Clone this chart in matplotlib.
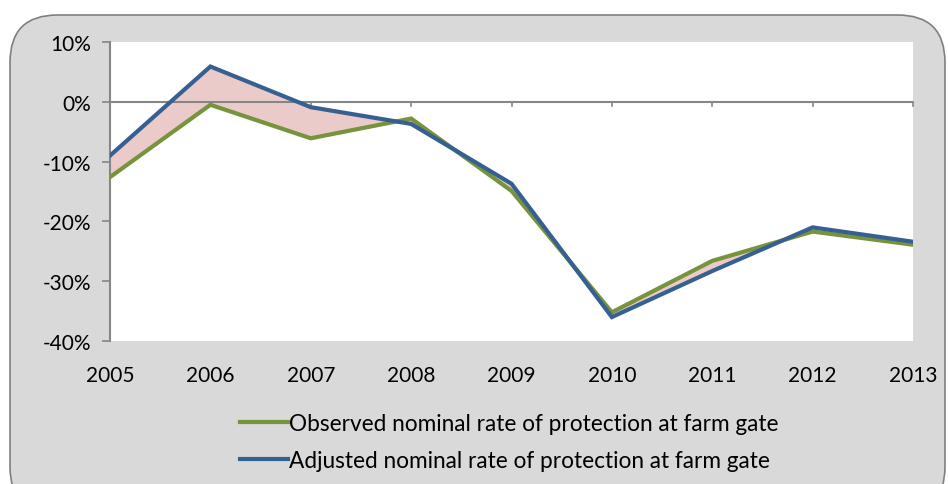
import matplotlib.pyplot as plt
from matplotlib.patches import FancyBboxPatch
from matplotlib.lines import Line2D
from matplotlib.ticker import FuncFormatter

years = ["2005", "2006", "2007", "2008", "2009", "2010", "2011", "2012", "2013"]
observed = [-12.6, -0.5, -6.1, -2.8, -14.9, -35.2, -26.6, -21.7, -23.9]
adjusted = [-9.0, 5.9, -0.9, -3.7, -13.7, -36.0, -28.3, -21.0, -23.4]

GREEN = "#77933C"
BLUE = "#376092"
PINK = "#EBCBCA"
GRAY = "#868686"
BG = "#D9D9D9"

plt.rcParams["font.family"] = ["Lato", "DejaVu Sans"]

W, H = 948, 485
fig = plt.figure(figsize=(W / 100, H / 100), dpi=100)
fig.patch.set_facecolor("white")

# rounded grey frame behind everything
frame = FancyBboxPatch((10 / W, -30 / H), 935 / W, (H - 16 + 30) / H,
                       boxstyle="round,pad=0,rounding_size=0.05",
                       transform=fig.transFigure, facecolor=BG,
                       edgecolor="#808080", linewidth=1.2, zorder=-5,
                       mutation_aspect=W / H)
fig.patches.append(frame)

ax = fig.add_axes([110 / W, (H - 342) / H, (913 - 110) / W, (342 - 43) / H])
ax.set_zorder(2)
ax.set_facecolor("white")

x = list(range(len(years)))
ax.fill_between(x, observed, adjusted, color=PINK, linewidth=0, zorder=1)
ax.axhline(0, color=GRAY, linewidth=1.5, zorder=2)
ax.plot(x, observed, color=GREEN, linewidth=3, solid_joinstyle="miter", zorder=3)
ax.plot(x, adjusted, color=BLUE, linewidth=3, solid_joinstyle="miter", zorder=4)

# small tick marks hanging below the zero line
for xi in x:
    ax.plot([xi, xi], [0, -0.7], color=GRAY, linewidth=1.2, zorder=2,
            clip_on=False)

ax.set_xlim(0, len(years) - 1)
ax.set_ylim(-40, 10)
ax.set_yticks([10, 0, -10, -20, -30, -40])
ax.yaxis.set_major_formatter(FuncFormatter(lambda v, p: f"{v:.0f}%"))
ax.set_xticks(x)
ax.set_xticklabels(years)

for side in ["top", "right", "bottom"]:
    ax.spines[side].set_visible(False)
ax.spines["left"].set_color(GRAY)
ax.spines["left"].set_linewidth(1.5)
ax.tick_params(axis="y", colors=GRAY, length=5.5, width=1.2, labelsize=15,
               labelcolor="black", pad=8)
ax.tick_params(axis="x", length=0, labelsize=15, labelcolor="black", pad=17)

handles = [Line2D([], [], color=GREEN, linewidth=3),
           Line2D([], [], color=BLUE, linewidth=3)]
labels = ["Observed nominal rate of protection at farm gate",
          "Adjusted nominal rate of protection at farm gate"]
fig.legend(handles, labels, loc="center left",
           bbox_to_anchor=(220 / W, 1 - 443 / H), frameon=False,
           fontsize=16.3, handlelength=2.1, handletextpad=0.05,
           labelspacing=0.7)

fig.savefig("out.png", dpi=100, facecolor="white")
